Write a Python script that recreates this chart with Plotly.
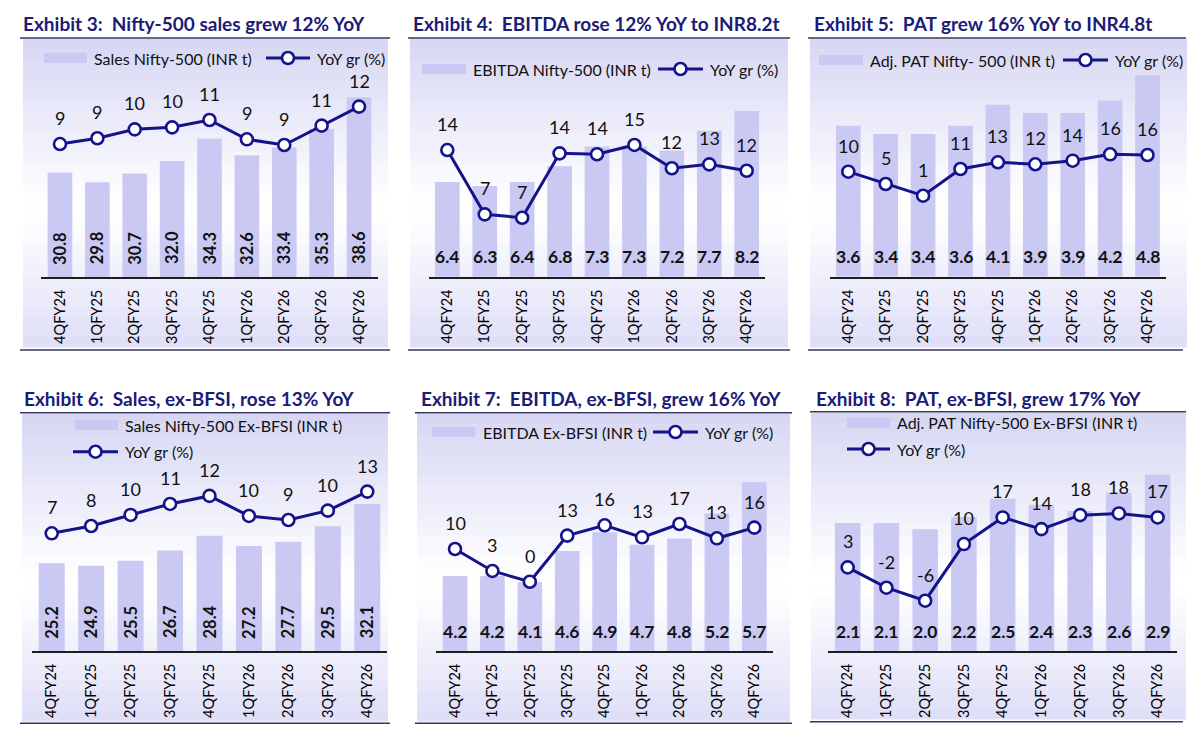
import plotly.graph_objects as go

# the page body keeps its default 8px margin, so the figure is drawn 8px in
OFF = 8
W, H = 1200 - 2 * OFF, 742 - 2 * OFF

# ---------- data ----------
QUARTERS = ["4QFY24", "1QFY25", "2QFY25", "3QFY25", "4QFY25",
            "1QFY26", "2QFY26", "3QFY26", "4QFY26"]

SALES = [30.8, 29.8, 30.7, 32.0, 34.3, 32.6, 33.4, 35.3, 38.6]
SALES_YOY = [8.83, 9.38, 10.23, 10.42, 11.12, 9.28, 8.74, 10.58, 12.39]

EBITDA = [6.4, 6.3, 6.4, 6.8, 7.3, 7.3, 7.2, 7.7, 8.2]
EBITDA_YOY = [14.23, 7.39, 7.03, 13.88, 13.78, 14.77, 12.29, 12.71, 12.03]

PAT = [3.6, 3.4, 3.4, 3.6, 4.1, 3.9, 3.9, 4.2, 4.8]
PAT_YOY = [9.73, 5.25, 1.0, 10.7, 13.15, 12.42, 13.73, 16.05, 15.8]

SALES_XB = [25.2, 24.9, 25.5, 26.7, 28.4, 27.2, 27.7, 29.5, 32.1]
SALES_XB_YOY = [7.10, 8.12, 9.66, 11.19, 12.31, 9.52, 8.96, 10.26, 12.91]

EBITDA_XB = [4.2, 4.2, 4.1, 4.6, 4.9, 4.7, 4.8, 5.2, 5.7]
EBITDA_XB_YOY = [9.57, 3.18, 0.05, 13.45, 16.45, 12.96, 16.84, 12.67, 15.77]

PAT_XB = [2.1, 2.1, 2.0, 2.2, 2.5, 2.4, 2.3, 2.6, 2.9]
PAT_XB_YOY = [3.25, -2.39, -6.0, 9.73, 17.13, 13.89, 17.77, 18.24, 17.13]

LINE_NAME = "YoY gr (%)"

# ---------- styles ----------
FONT = "Lato"
NAVY = "#13138a"
TITLE_C = "#1b1b78"
BAR_C = "#c9c9f4"
RULE_C = "#34345e"
LAV_TOP = (214, 214, 244)
LAV_BOT = (222, 222, 247)


def px(x):
    return (x - OFF) / W


def py(y):
    return 1 - (y - OFF) / H


PANELS = [
    dict(no="3", title="Nifty-500 sales grew 12% YoY", bars=SALES, yoy=SALES_YOY,
         bar_name="Sales Nifty-500 (INR t)", rot=True,
         tx=21, ty=23, rule=(20, 390, 38), foot=(20, 390, 350), bg=(23, 388, 39, 347),
         ax=(41.3, 377.7), base=277, bmin=20, bpx=9.67, y2=(10.5, 126.5, 10.5),
         leg=[("bar", 44, 87, 58, 92), ("line", 266, 310, 58, 315)]),
    dict(no="4", title="EBITDA rose 12% YoY to INR8.2t", bars=EBITDA, yoy=EBITDA_YOY,
         bar_name="EBITDA Nifty-500 (INR t)", rot=False,
         tx=411, ty=23, rule=(408, 790, 38), foot=(408, 790, 350), bg=(410, 788, 39, 347),
         ax=(428.6, 765.4), base=276.7, bmin=4, bpx=39.45, y2=(12.5, 166.3, 9.4),
         leg=[("bar", 422, 466, 69, 471), ("line", 658, 703, 69, 708)]),
    dict(no="5", title="PAT grew 16% YoY to INR4.8t", bars=PAT, yoy=PAT_YOY,
         bar_name="Adj. PAT Nifty- 500 (INR t)", rot=False,
         tx=812, ty=23, rule=(808, 1186, 38), foot=(808, 1183, 350), bg=(810, 1187, 39, 347),
         ax=(829.6, 1166.2), base=276.7, bmin=0, bpx=41.96, y2=(1.0, 195.7, 2.75),
         leg=[("bar", 819, 863, 60, 868), ("line", 1063, 1108, 60, 1113)]),
    dict(no="6", title="Sales, ex-BFSI, rose 13% YoY", bars=SALES_XB, yoy=SALES_XB_YOY,
         bar_name="Sales Nifty-500 Ex-BFSI (INR t)", rot=True,
         tx=22, ty=398, rule=(20, 390, 412.7), foot=(20, 390, 723.3), bg=(22, 388, 414, 721),
         ax=(32, 387), base=651, bmin=15, bpx=8.6, y2=(10.0, 512.5, 7.18),
         leg=[("bar", 75, 118, 425, 123), ("line", 73, 118, 451.7, 123)]),
    dict(no="7", title="EBITDA, ex-BFSI, grew 16% YoY", bars=EBITDA_XB, yoy=EBITDA_XB_YOY,
         bar_name="EBITDA Ex-BFSI (INR t)", rot=False,
         tx=419, ty=398, rule=(415, 792, 412.7), foot=(415, 792, 723.3), bg=(417, 790, 414, 721),
         ax=(436.3, 773), base=651, bmin=3, bpx=62.5, y2=(11.22, 543.3, 3.44),
         leg=[("bar", 432, 475, 432, 481), ("line", 653, 698, 432, 703)]),
    dict(no="8", title="PAT, ex-BFSI, grew 17% YoY", bars=PAT_XB, yoy=PAT_XB_YOY,
         bar_name="Adj. PAT Nifty-500 Ex-BFSI (INR t)", rot=False,
         tx=814, ty=398, rule=(810, 1186, 411.7), foot=(810, 1183, 721.7), bg=(811, 1186, 413, 719),
         ax=(828.3, 1177), base=651, bmin=0, bpx=60.9, y2=(-6.0, 600.7, 3.6),
         leg=[("bar", 847, 890, 423, 895), ("line", 847, 890, 449, 895)]),
]

fig = go.Figure()
shapes = []
annotations = []
layout = {}


def mix(c, t):
    return "rgb(%d,%d,%d)" % tuple(round(v + (255 - v) * t) for v in c)


for i, p in enumerate(PANELS, start=1):
    xa = "x" if i == 1 else f"x{i}"
    yb_id = 2 * i - 1
    yl_id = 2 * i
    ya = "y" if yb_id == 1 else f"y{yb_id}"
    yl = f"y{yl_id}"

    # background with soft vertical gradient
    x0, x1, y0, y1 = p["bg"]
    n = 30
    for k in range(n):
        t = (k + 0.5) / n
        if t < 0.55:
            c, w = LAV_TOP, t / 0.55
        else:
            c, w = LAV_BOT, (1 - t) / 0.45
        w = min(1.0, w * 1.05)
        shapes.append(dict(type="rect", xref="paper", yref="paper", layer="below",
                           x0=px(x0), x1=px(x1),
                           y0=py(y0 + (y1 - y0) * k / n), y1=py(y0 + (y1 - y0) * (k + 1) / n + 0.6),
                           fillcolor=mix(c, w), line_width=0))

    # title rule + foot rule
    for (lx0, lx1, ly) in (p["rule"], p["foot"]):
        shapes.append(dict(type="line", xref="paper", yref="paper", layer="above",
                           x0=px(lx0), x1=px(lx1), y0=py(ly), y1=py(ly),
                           line=dict(color=RULE_C, width=1.6)))

    annotations.append(dict(
        xref="paper", yref="paper", x=px(p["tx"]), y=py(p["ty"]), xanchor="left", yanchor="middle",
        text=f"<b>Exhibit {p['no']}:\u00a0 {p['title']}</b>", showarrow=False,
        font=dict(family=FONT, size=19, color=TITLE_C)))

    # axes
    dom_top = p["base"] - 225
    ydom = [py(p["base"]), py(dom_top)]
    span = p["base"] - dom_top
    a, yref, s = p["y2"]
    layout["xaxis" if i == 1 else f"xaxis{i}"] = dict(
        domain=[px(p["ax"][0]), px(p["ax"][1])], anchor=ya, type="category",
        categoryorder="array", categoryarray=QUARTERS, range=[-0.5, 8.5],
        showline=True, linecolor="#1e1e1e", linewidth=2, showgrid=False, zeroline=False,
        ticks="", tickangle=-90, ticklabelstandoff=5,
        tickfont=dict(family=FONT, size=14.5, color="#000000"))
    layout["yaxis" if yb_id == 1 else f"yaxis{yb_id}"] = dict(
        domain=ydom, anchor=xa, range=[p["bmin"], p["bmin"] + span / p["bpx"]],
        visible=False, fixedrange=True)
    layout[f"yaxis{yl_id}"] = dict(
        overlaying=ya, anchor=xa,
        range=[a + (yref - p["base"]) / s, a + (yref - dom_top) / s],
        visible=False, fixedrange=True)

    fig.add_trace(go.Bar(x=QUARTERS, y=p["bars"], xaxis=xa, yaxis=ya, width=0.66,
                         marker=dict(color=BAR_C, line_width=0), name=p["bar_name"],
                         showlegend=False, hoverinfo="x+y"))
    fig.add_trace(go.Scatter(x=QUARTERS, y=p["yoy"], xaxis=xa, yaxis=yl, mode="lines+markers",
                             line=dict(color=NAVY, width=3),
                             marker=dict(size=12, color="white", line=dict(color=NAVY, width=2.6)),
                             name=LINE_NAME, showlegend=False, cliponaxis=False))

    # value labels
    for q, b, g in zip(QUARTERS, p["bars"], p["yoy"]):
        annotations.append(dict(x=q, y=g, xref=xa, yref=yl, text=f"{g:.0f}", showarrow=False,
                                yanchor="middle", yshift=26,
                                font=dict(family=FONT, size=18, color="#111111")))
        if p["rot"]:
            annotations.append(dict(x=q, y=p["bmin"], xref=xa, yref=ya, text=f"<b>{b:.1f}</b>",
                                    showarrow=False, textangle=-90, yanchor="middle", yshift=29,
                                    font=dict(family=FONT, size=16.5, color="#111111")))
        else:
            annotations.append(dict(x=q, y=p["bmin"], xref=xa, yref=ya, text=f"<b>{b:.1f}</b>",
                                    showarrow=False, yanchor="middle", yshift=20,
                                    font=dict(family=FONT, size=17.5, color="#111111")))

    # hand-built legend
    for kind, lx0, lx1, ly, tx in p["leg"]:
        if kind == "bar":
            shapes.append(dict(type="rect", xref="paper", yref="paper",
                               x0=px(lx0), x1=px(lx1), y0=py(ly + 5), y1=py(ly - 5),
                               fillcolor=BAR_C, line_width=0))
            label = p["bar_name"]
        else:
            shapes.append(dict(type="line", xref="paper", yref="paper",
                               x0=px(lx0), x1=px(lx1), y0=py(ly), y1=py(ly),
                               line=dict(color=NAVY, width=3)))
            shapes.append(dict(type="circle", xref="paper", yref="paper",
                               xsizemode="pixel", ysizemode="pixel",
                               xanchor=px((lx0 + lx1) / 2), yanchor=py(ly),
                               x0=-6, x1=6, y0=-6, y1=6,
                               fillcolor="white", line=dict(color=NAVY, width=2.6)))
            label = LINE_NAME
        annotations.append(dict(xref="paper", yref="paper", x=px(tx), y=py(ly),
                                xanchor="left", yanchor="middle", text=label, showarrow=False,
                                font=dict(family=FONT, size=16, color="#111111")))

fig.update_layout(
    width=W, height=H,
    margin=dict(l=0, r=0, t=0, b=0),
    paper_bgcolor="white", plot_bgcolor="rgba(0,0,0,0)",
    bargap=0.34, showlegend=False,
    shapes=shapes, annotations=annotations,
    font=dict(family=FONT),
    **layout,
)

fig.write_html("out.html")
